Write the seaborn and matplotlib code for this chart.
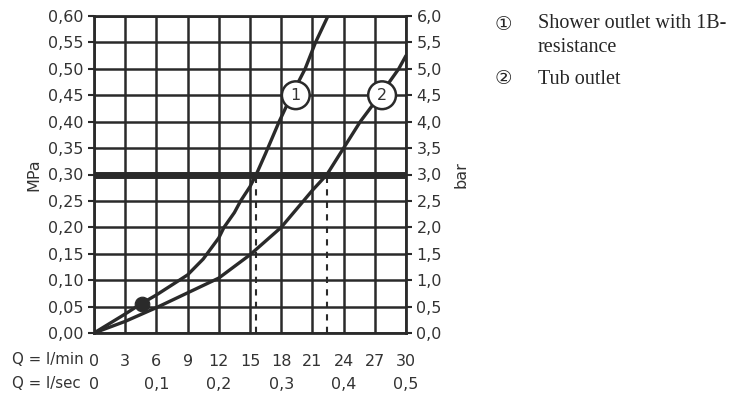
import numpy as np
import pandas as pd
import matplotlib
matplotlib.use("Agg")
import matplotlib.pyplot as plt
import seaborn as sns

# Werte (Q in l/min, p in MPa)
q_shower = [0, 3, 4.5, 6, 9, 10.5, 12, 12.5, 13.5, 14.1, 15, 15.6, 16.5, 17.8, 19, 20.3, 21.3, 22.5]
p_shower = [0, 0.036, 0.055, 0.072, 0.110, 0.140, 0.180, 0.20, 0.228, 0.25, 0.277, 0.30, 0.34, 0.40, 0.45, 0.50, 0.55, 0.60]

q_tub = [0, 3, 6, 9, 12, 15, 18, 21, 22.4, 24, 25.6, 27.5, 29.3, 30]
p_tub = [0, 0.022, 0.048, 0.076, 0.104, 0.148, 0.20, 0.27, 0.30, 0.35, 0.40, 0.45, 0.50, 0.525]

dot_q, dot_p = [4.6], [0.055]
p_limit = 0.30
cross_q = [15.6, 22.4]
label_q = [19.4, 27.7]
label_p = [0.45, 0.45]
label_txt = ["1", "2"]

xticks_min = list(range(0, 31, 3))
yticks_mpa = [i * 0.05 for i in range(13)]
yticks_bar = [i * 0.5 for i in range(13)]
xticks_sec = [0, 0.1, 0.2, 0.3, 0.4, 0.5]

legend_lines = ["\u2460", "Shower outlet with 1B-", "resistance", "\u2461", "Tub outlet"]

sns.set_style("white")
plt.rcParams["font.family"] = ["DejaVu Sans"]

ink = "#2a2a2a"
txt = "#333333"

fig = plt.figure(figsize=(7.36, 4.08), dpi=100)
ax = fig.add_axes([94 / 736, 75 / 408, 312 / 736, 317 / 408])

df1 = pd.DataFrame({"q": q_shower, "p": p_shower})
df2 = pd.DataFrame({"q": q_tub, "p": p_tub})
sns.lineplot(data=df1, x="q", y="p", ax=ax, color=ink, lw=2.4, zorder=4)
sns.lineplot(data=df2, x="q", y="p", ax=ax, color=ink, lw=2.4, zorder=4)
sns.scatterplot(x=dot_q, y=dot_p, ax=ax, color=ink, s=110, zorder=6, edgecolor=ink)

ax.axhline(p_limit, color=ink, lw=5, zorder=5)
ax.vlines(cross_q, 0, p_limit, colors=ink, linestyles=(0, (3, 3)), lw=1.5, zorder=3)

for xq, yp, t in zip(label_q, label_p, label_txt):
    ax.text(xq, yp, t, ha="center", va="center", fontsize=11.5, color=txt, zorder=7,
            bbox=dict(boxstyle="circle,pad=0.4", fc="white", ec=ink, lw=1.8))

ax.set_xlim(0, 30)
ax.set_ylim(0, 0.60)
ax.set_xticks(xticks_min)
ax.set_xticklabels([str(v) for v in xticks_min])
ax.set_yticks(yticks_mpa)
ax.set_yticklabels([f"{v:.2f}".replace(".", ",") for v in yticks_mpa])
ax.grid(True, color=ink, lw=1.8)
for s in ax.spines.values():
    s.set_color(ink)
    s.set_linewidth(2)
ax.tick_params(axis="both", colors=ink, labelcolor=txt, labelsize=11.5, length=4, width=1.5,
               direction="out")
ax.tick_params(axis="x", pad=11)
ax.set_xlabel("")
ax.set_ylabel("MPa", fontsize=11.5, color=txt, labelpad=5)

ax2 = ax.twinx()
ax2.set_ylim(0, 6.0)
ax2.set_yticks(yticks_bar)
ax2.set_yticklabels([f"{v:.1f}".replace(".", ",") for v in yticks_bar])
ax2.tick_params(axis="y", colors=ink, labelcolor=txt, labelsize=11.5, length=4, width=1.5)
for s in ax2.spines.values():
    s.set_visible(False)
ax2.set_ylabel("bar", fontsize=11.5, color=txt, labelpad=8)

sec = ax.secondary_xaxis(-0.125, functions=(lambda x: x / 60, lambda x: x * 60))
sec.set_xticks(xticks_sec)
sec.set_xticklabels(["0"] + [f"{v:.1f}".replace(".", ",") for v in xticks_sec[1:]])
sec.tick_params(length=0, labelsize=11.5, labelcolor=txt)
sec.spines["bottom"].set_visible(False)

fig.text(12 / 736, 1 - 360 / 408, "Q = l/min", fontsize=10.8, color=txt, va="center")
fig.text(12 / 736, 1 - 384 / 408, "Q = l/sec", fontsize=10.8, color=txt, va="center")

serif = ["Liberation Serif", "DejaVu Sans"]
fig.text(495 / 736, 1 - 24 / 408, legend_lines[0], fontsize=14, family=["DejaVu Sans"], va="center")
fig.text(538 / 736, 1 - 24 / 408, legend_lines[1], fontsize=14.5, family=serif, va="center")
fig.text(538 / 736, 1 - 47 / 408, legend_lines[2], fontsize=14.5, family=serif, va="center")
fig.text(495 / 736, 1 - 79 / 408, legend_lines[3], fontsize=14, family=["DejaVu Sans"], va="center")
fig.text(538 / 736, 1 - 79 / 408, legend_lines[4], fontsize=14.5, family=serif, va="center")

fig.savefig("out.png", dpi=100, facecolor="white")
